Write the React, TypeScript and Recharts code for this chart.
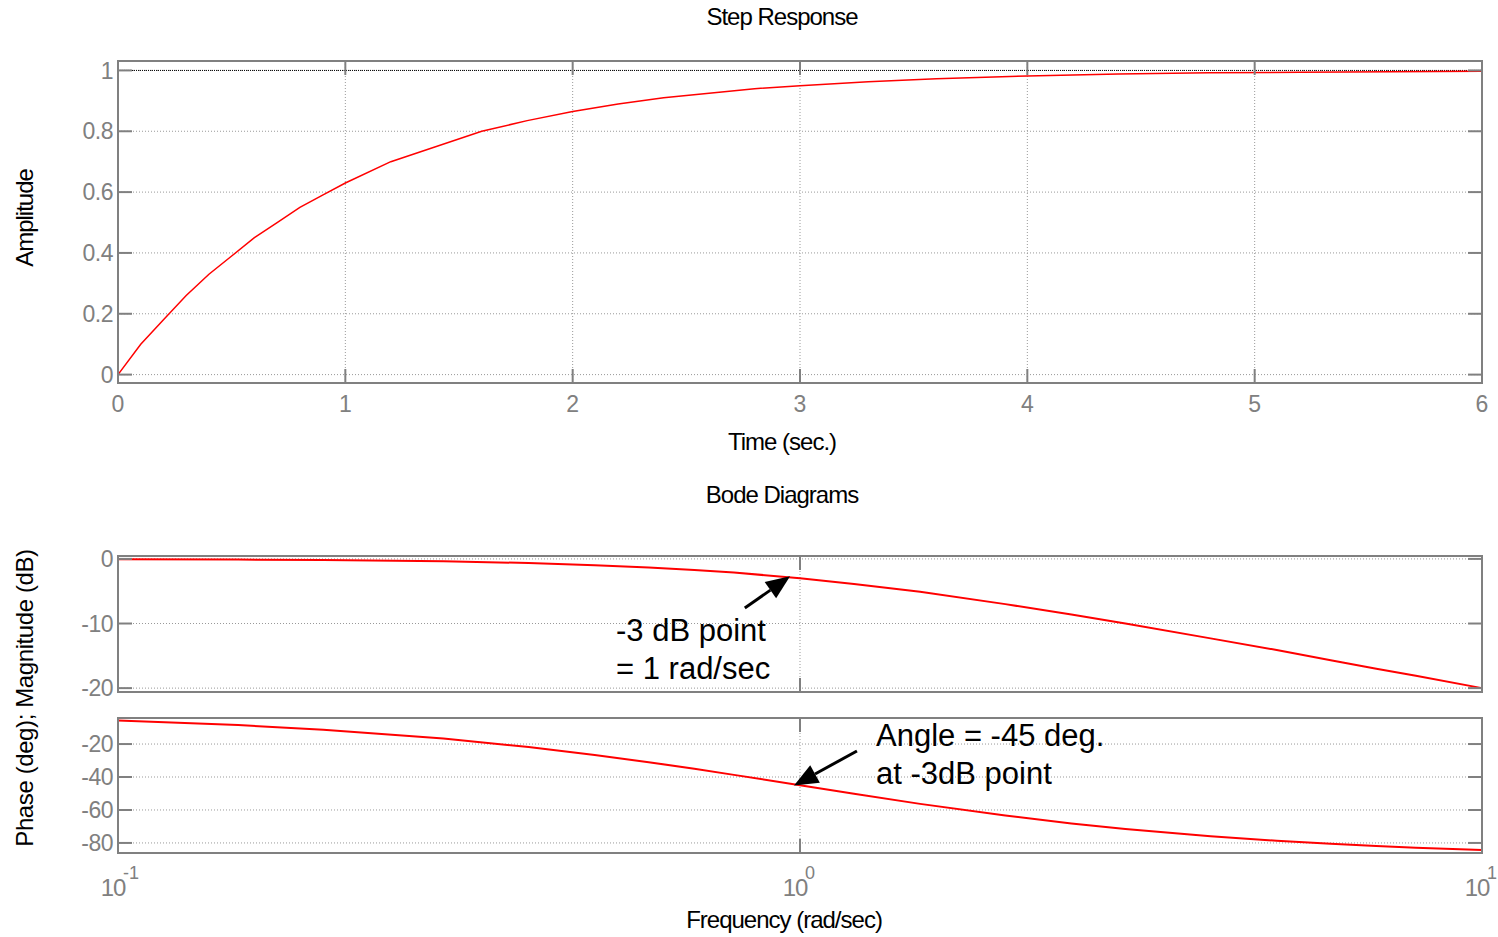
import { LineChart, Line, XAxis, YAxis, CartesianGrid, ReferenceLine, ReferenceArea } from 'recharts';

// step response
const stepTimes = [0, 0.1, 0.2, 0.3, 0.4, 0.5, 0.6, 0.7, 0.8, 0.9, 1.0, 1.2, 1.4, 1.6, 1.8, 2.0, 2.2, 2.4, 2.6, 2.8, 3.0, 3.3, 3.6, 4.0, 4.4, 4.8, 5.2, 5.6, 6.0];
const stepAmps = [0, 0.1, 0.18, 0.26, 0.33, 0.39, 0.45, 0.5, 0.55, 0.59, 0.63, 0.7, 0.75, 0.8, 0.835, 0.865, 0.89, 0.91, 0.925, 0.94, 0.95, 0.963, 0.973, 0.982, 0.988, 0.992, 0.994, 0.996, 0.9975];

// bode diagram
const freqs = [0.1, 0.15, 0.2, 0.3, 0.4, 0.5, 0.6, 0.7, 0.8, 1.0, 1.2, 1.5, 2, 2.5, 3, 4, 5, 6, 7, 8, 10];
const magDb = [-0.04, -0.1, -0.17, -0.37, -0.64, -0.97, -1.34, -1.7, -2.1, -3.0, -3.9, -5.1, -7.0, -8.6, -10.0, -12.3, -14.1, -15.7, -17.0, -18.1, -20.0];
const phaseDeg = [-5.7, -8.5, -11.3, -16.7, -21.8, -26.6, -31, -35, -38.7, -45, -50.2, -56.3, -63.4, -68.2, -71.6, -76, -78.7, -80.5, -81.9, -82.9, -84.3];

const timeTicks = [0, 1, 2, 3, 4, 5, 6];
const ampTicks = [0, 0.2, 0.4, 0.6, 0.8, 1];
const freqTicks = [0.1, 1, 10];
const freqExp = ['-1', '0', '1'];
const magTicks = [-20, -10, 0];
const phaseTicks = [-80, -60, -40, -20];

const stepData = stepTimes.map((t, i) => ({ t, amp: stepAmps[i] }));
const bodeData = freqs.map((w, i) => ({ w, mag: magDb[i], phase: phaseDeg[i] }));

const GRAY = '#808080';
const FONT = '"Liberation Sans", Arial, sans-serif';
const PLOT_W = 1364;
const TICK_LEN = 14;

const makeYTick = (margin: number) => (p: any) => {
  const { x, y, payload } = p;
  const ax = x + margin;
  return (
    <g>
      <line x1={ax} x2={ax + TICK_LEN} y1={y} y2={y} stroke={GRAY} strokeWidth={2} />
      <line x1={ax + PLOT_W} x2={ax + PLOT_W - TICK_LEN} y1={y} y2={y} stroke={GRAY} strokeWidth={2} />
      <text x={x} y={y} dy="0.355em" textAnchor="end" fill={GRAY} fontSize={23} fontFamily={FONT} letterSpacing={-0.5}>
        {String(payload.value)}
      </text>
    </g>
  );
};

const makeXTick = (margin: number, plotH: number, mode: 'plain' | 'none' | 'pow') => (p: any) => {
  const { x, y, payload, index } = p;
  const ay = y - margin;
  return (
    <g>
      <line x1={x} x2={x} y1={ay} y2={ay - TICK_LEN} stroke={GRAY} strokeWidth={2} />
      <line x1={x} x2={x} y1={ay - plotH} y2={ay - plotH + TICK_LEN} stroke={GRAY} strokeWidth={2} />
      {mode === 'plain' && (
        <text x={x} y={y} dy="0.71em" textAnchor="middle" fill={GRAY} fontSize={23} fontFamily={FONT}>
          {String(payload.value)}
        </text>
      )}
      {mode === 'pow' && (
        <g fill={GRAY} fontFamily={FONT}>
          <text x={x - 5} y={y + 43} textAnchor="middle" fontSize={24} letterSpacing={-1}>10</text>
          <text x={x + 5} y={y + 26} textAnchor="start" fontSize={18}>{freqExp[index]}</text>
        </g>
      )}
    </g>
  );
};

const Arrow = (p: any) => {
  const { x1, y1, x2, y2 } = p;
  const dx = x2 - x1;
  const dy = y2 - y1;
  const len = Math.hypot(dx, dy) || 1;
  const ux = dx / len;
  const uy = dy / len;
  const head = 24;
  const half = 10;
  const bx = x2 - ux * head;
  const by = y2 - uy * head;
  const pts = `${x2},${y2} ${bx - uy * half},${by + ux * half} ${bx + uy * half},${by - ux * half}`;
  return (
    <g>
      <line x1={x1} y1={y1} x2={bx} y2={by} stroke="#000" strokeWidth={3} />
      <polygon points={pts} fill="#000" />
    </g>
  );
};

const textStyle = { fontFamily: FONT, fill: '#000' };

export default function App() {
  return (
    <div style={{ position: 'absolute', left: 0, top: 0, width: 1498, height: 937, background: '#fff' }}>
      <div style={{ position: 'absolute', left: 0, top: 0 }}>
        <LineChart width={1498} height={420} data={stepData} margin={{ top: 61, right: 16, left: 0, bottom: 0 }}>
          <CartesianGrid stroke="#999" strokeDasharray="1 2" />
          <XAxis dataKey="t" type="number" domain={[0, 6]} ticks={timeTicks} interval={0} height={37}
            tickSize={0} tickMargin={13} tickLine={false} axisLine={false} tick={makeXTick(13, 322, 'plain')} />
          <YAxis type="number" domain={[-0.0276, 1.031]} ticks={ampTicks} interval={0} width={118}
            tickSize={0} tickMargin={5} tickLine={false} axisLine={false} tick={makeYTick(5)} />
          <ReferenceArea x1={0} x2={6} y1={-0.0276} y2={1.031} fill="none" stroke={GRAY} strokeWidth={2} />
          <ReferenceLine y={1} stroke="#000" strokeDasharray="1 1" />
          <Line dataKey="amp" stroke="#ff0000" strokeWidth={1.5} dot={false} isAnimationActive={false} />
        </LineChart>
      </div>

      <div style={{ position: 'absolute', left: 0, top: 540 }}>
        <LineChart width={1498} height={160} data={bodeData} margin={{ top: 16, right: 16, left: 0, bottom: 0 }}>
          <CartesianGrid stroke="#999" strokeDasharray="1 2" />
          <XAxis dataKey="w" type="number" scale="log" domain={[0.1, 10]} ticks={freqTicks} interval={0} height={8}
            tickSize={0} tickMargin={0} tickLine={false} axisLine={false} tick={makeXTick(0, 136, 'none')} />
          <YAxis type="number" domain={[-20.6, 0.45]} ticks={magTicks} interval={0} width={118}
            tickSize={0} tickMargin={5} tickLine={false} axisLine={false} tick={makeYTick(5)} />
          <ReferenceArea x1={0.1} x2={10} y1={-20.6} y2={0.45} fill="none" stroke={GRAY} strokeWidth={2} />
          <Line dataKey="mag" stroke="#ff0000" strokeWidth={2} dot={false} isAnimationActive={false} />
          <ReferenceLine segment={[{ x: 0.83, y: -7.6 }, { x: 0.967, y: -2.7 }]} shape={Arrow} />
        </LineChart>
      </div>

      <div style={{ position: 'absolute', left: 0, top: 700 }}>
        <LineChart width={1498} height={237} data={bodeData} margin={{ top: 18, right: 16, left: 0, bottom: 0 }}>
          <CartesianGrid stroke="#999" strokeDasharray="1 2" />
          <XAxis dataKey="w" type="number" scale="log" domain={[0.1, 10]} ticks={freqTicks} interval={0} height={84}
            tickSize={0} tickMargin={0} tickLine={false} axisLine={false} tick={makeXTick(0, 135, 'pow')} />
          <YAxis type="number" domain={[-86.1, -4.2]} ticks={phaseTicks} interval={0} width={118}
            tickSize={0} tickMargin={5} tickLine={false} axisLine={false} tick={makeYTick(5)} />
          <ReferenceArea x1={0.1} x2={10} y1={-86.1} y2={-4.2} fill="none" stroke={GRAY} strokeWidth={2} />
          <Line dataKey="phase" stroke="#ff0000" strokeWidth={2} dot={false} isAnimationActive={false} />
          <ReferenceLine segment={[{ x: 1.212, y: -24.2 }, { x: 0.98, y: -45.2 }]} shape={Arrow} />
        </LineChart>
      </div>

      <svg width={1498} height={937} style={{ position: 'absolute', left: 0, top: 0, pointerEvents: 'none' }}>
        <g {...textStyle} fontSize={24} letterSpacing={-1} textAnchor="middle">
          <text x={782} y={25}>Step Response</text>
          <text x={782} y={450}>Time (sec.)</text>
          <text x={782} y={503}>Bode Diagrams</text>
          <text x={784} y={928}>Frequency (rad/sec)</text>
          <text transform="translate(33,218) rotate(-90)">Amplitude</text>
          <text transform="translate(33,698) rotate(-90)" letterSpacing={-0.4}>Phase (deg); Magnitude (dB)</text>
        </g>
        <g {...textStyle} fontSize={31}>
          <text x={616} y={641}>-3 dB point</text>
          <text x={616} y={679}>= 1 rad/sec</text>
          <text x={876} y={746}>Angle = -45 deg.</text>
          <text x={876} y={784}>at -3dB point</text>
        </g>
      </svg>
    </div>
  );
}
